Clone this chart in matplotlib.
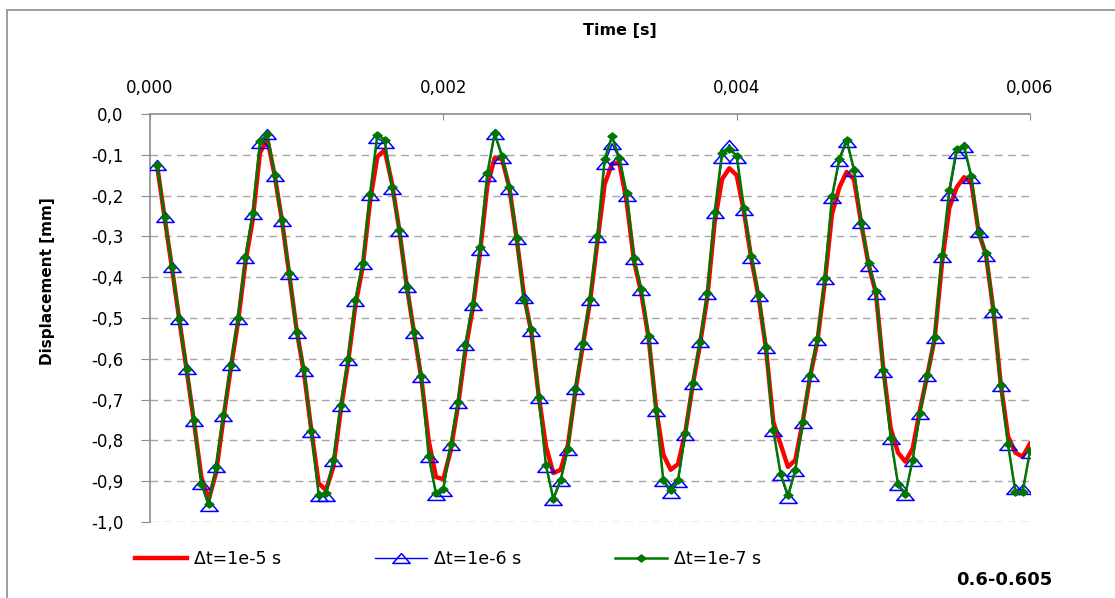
import numpy as np
import matplotlib
matplotlib.use("Agg")
from matplotlib import pyplot as plt
from matplotlib.ticker import FuncFormatter, MultipleLocator
from matplotlib.path import Path

plt.rcParams['font.family'] = ['DejaVu Sans']

# vrijeme uzorkovanja: svakih 5e-5 s
dt_sample = 5e-5
time = np.arange(1, 121) * dt_sample

# dt = 1e-7 s (zeleno)
disp_1e7 = [
    -0.126, -0.253, -0.374, -0.503, -0.626, -0.750, -0.906, -0.957, -0.865, -0.738,
    -0.615, -0.501, -0.351, -0.243, -0.067, -0.049, -0.149, -0.261, -0.390, -0.534,
    -0.626, -0.777, -0.933, -0.930, -0.847, -0.714, -0.601, -0.456, -0.366, -0.196,
    -0.051, -0.063, -0.179, -0.284, -0.423, -0.534, -0.642, -0.839, -0.930, -0.918,
    -0.809, -0.705, -0.565, -0.466, -0.325, -0.145, -0.047, -0.102, -0.179, -0.304,
    -0.456, -0.528, -0.693, -0.861, -0.943, -0.896, -0.820, -0.673, -0.561, -0.454,
    -0.299, -0.110, -0.055, -0.108, -0.194, -0.354, -0.430, -0.544, -0.726, -0.898,
    -0.922, -0.898, -0.783, -0.659, -0.558, -0.439, -0.239, -0.096, -0.086, -0.102,
    -0.231, -0.349, -0.444, -0.570, -0.775, -0.883, -0.935, -0.872, -0.754, -0.640,
    -0.552, -0.403, -0.202, -0.110, -0.063, -0.137, -0.266, -0.366, -0.433, -0.628,
    -0.793, -0.906, -0.932, -0.847, -0.732, -0.640, -0.546, -0.345, -0.186, -0.086,
    -0.078, -0.153, -0.292, -0.340, -0.480, -0.664, -0.809, -0.926, -0.926, -0.826,
]

# dt = 1e-6 s (plavo)
disp_1e6 = [
    -0.126, -0.253, -0.374, -0.503, -0.626, -0.752, -0.908, -0.962, -0.865, -0.740,
    -0.615, -0.503, -0.354, -0.246, -0.072, -0.050, -0.152, -0.263, -0.392, -0.536,
    -0.630, -0.780, -0.936, -0.936, -0.850, -0.716, -0.603, -0.458, -0.368, -0.198,
    -0.060, -0.070, -0.183, -0.287, -0.425, -0.536, -0.645, -0.841, -0.933, -0.925,
    -0.812, -0.708, -0.567, -0.468, -0.333, -0.152, -0.050, -0.107, -0.185, -0.307,
    -0.450, -0.533, -0.696, -0.864, -0.946, -0.900, -0.823, -0.675, -0.563, -0.456,
    -0.301, -0.122, -0.073, -0.110, -0.200, -0.356, -0.432, -0.549, -0.728, -0.900,
    -0.928, -0.903, -0.786, -0.662, -0.560, -0.442, -0.242, -0.108, -0.075, -0.108,
    -0.236, -0.352, -0.447, -0.573, -0.777, -0.886, -0.940, -0.875, -0.757, -0.643,
    -0.555, -0.405, -0.206, -0.115, -0.068, -0.140, -0.268, -0.372, -0.440, -0.633,
    -0.796, -0.910, -0.935, -0.850, -0.735, -0.643, -0.549, -0.350, -0.198, -0.095,
    -0.082, -0.158, -0.288, -0.347, -0.485, -0.667, -0.812, -0.920, -0.920, -0.830,
]

# dt = 1e-5 s (crveno)
disp_1e5 = [
    -0.130, -0.255, -0.378, -0.505, -0.628, -0.755, -0.890, -0.945, -0.880, -0.748,
    -0.625, -0.510, -0.365, -0.260, -0.095, -0.062, -0.150, -0.262, -0.395, -0.530,
    -0.635, -0.775, -0.905, -0.922, -0.865, -0.728, -0.610, -0.470, -0.375, -0.215,
    -0.105, -0.088, -0.170, -0.285, -0.420, -0.535, -0.648, -0.800, -0.890, -0.895,
    -0.825, -0.715, -0.580, -0.478, -0.340, -0.175, -0.108, -0.110, -0.180, -0.305,
    -0.445, -0.535, -0.690, -0.815, -0.880, -0.872, -0.810, -0.680, -0.570, -0.460,
    -0.315, -0.172, -0.122, -0.120, -0.215, -0.360, -0.440, -0.550, -0.720, -0.835,
    -0.872, -0.858, -0.780, -0.665, -0.565, -0.448, -0.265, -0.160, -0.133, -0.150,
    -0.240, -0.355, -0.450, -0.575, -0.755, -0.810, -0.865, -0.848, -0.755, -0.645,
    -0.558, -0.415, -0.245, -0.180, -0.142, -0.160, -0.270, -0.370, -0.440, -0.625,
    -0.770, -0.830, -0.852, -0.820, -0.725, -0.640, -0.550, -0.365, -0.230, -0.180,
    -0.155, -0.168, -0.290, -0.345, -0.480, -0.660, -0.790, -0.830, -0.840, -0.808,
]

labels = ['Δt=1e-5 s', 'Δt=1e-6 s', 'Δt=1e-7 s']

# siroki trokut i romb (slika je razvucena vodoravno)
tri = Path([(-1, -0.57), (1, -0.57), (0, 0.57), (-1, -0.57)],
           [Path.MOVETO, Path.LINETO, Path.LINETO, Path.CLOSEPOLY])
dia = Path([(-1, 0), (0, 0.8), (1, 0), (0, -0.8), (-1, 0)],
           [Path.MOVETO, Path.LINETO, Path.LINETO, Path.LINETO, Path.CLOSEPOLY])

W, H = 1115, 598
fig = plt.figure(figsize=(W / 100, H / 100), dpi=100)

# okvir grafa (samo lijevo i gore vidljivo)
fig.add_artist(plt.Rectangle((7 / W, -0.1), 1.2, 1 - 10 / H + 0.1, transform=fig.transFigure,
                             fill=False, edgecolor='#8c8c8c', linewidth=1.2))

ax = fig.add_axes([150 / W, 1 - 522 / H, 880 / W, 408 / H])

gray = '#8c8c8c'
for y in np.arange(-1.0, -0.05, 0.1):
    ax.axhline(y, color='#a6a6a6', linestyle=(0, (5.5, 4)), linewidth=1.0, zorder=0)

ax.plot(time, disp_1e5, color='#ff0000', linewidth=3.2, label=labels[0], zorder=2)
ax.plot(time, disp_1e6, color='#0000ff', linewidth=1.0, marker=tri, markersize=12.5,
        markerfacecolor='none', markeredgecolor='#0000ff', markeredgewidth=1.1,
        label=labels[1], zorder=3)
ax.plot(time, disp_1e7, color='#007800', linewidth=1.8, marker=dia, markersize=6.5,
        markerfacecolor='#007800', markeredgecolor='#007800', label=labels[2], zorder=4)

ax.set_xlim(0, 0.006)
ax.set_ylim(-1.0, 0.0)
ax.xaxis.set_major_locator(MultipleLocator(0.002))
ax.yaxis.set_major_locator(MultipleLocator(0.1))
ax.xaxis.tick_top()
ax.xaxis.set_major_formatter(FuncFormatter(lambda v, p: f'{v:.3f}'.replace('.', ',')))
ax.yaxis.set_major_formatter(FuncFormatter(lambda v, p: f'{v:.1f}'.replace('.', ',').replace('-0,0', '0,0')))

for s in ['right', 'bottom']:
    ax.spines[s].set_visible(False)
for s in ['left', 'top']:
    ax.spines[s].set_color(gray)
    ax.spines[s].set_linewidth(1.2)

ax.tick_params(axis='x', direction='in', length=4.5, color=gray, labelsize=12, pad=12)
ax.tick_params(axis='y', direction='out', length=6.5, color=gray, labelsize=12, pad=12.5)

fig.text(620 / W, 1 - 30 / H, 'Time [s]', ha='center', va='center',
         fontsize=11.5, fontweight='bold')
fig.text(48 / W, 1 - 281 / H, 'Displacement [mm]', ha='center', va='center',
         rotation=90, fontsize=11, fontweight='bold')

leg = fig.legend(handles=ax.get_lines()[-3:], labels=labels, ncol=3, frameon=False,
                 loc='center left', bbox_to_anchor=(135 / W, 1 - 559 / H),
                 fontsize=12.5, handlelength=3.0, handletextpad=0.4, columnspacing=5.4,
                 borderpad=0, borderaxespad=0)

fig.text(1052 / W, 1 - 580 / H, '0.6-0.605', ha='right', va='center',
         fontsize=13, fontweight='bold')

fig.savefig('out.png', dpi=100)
